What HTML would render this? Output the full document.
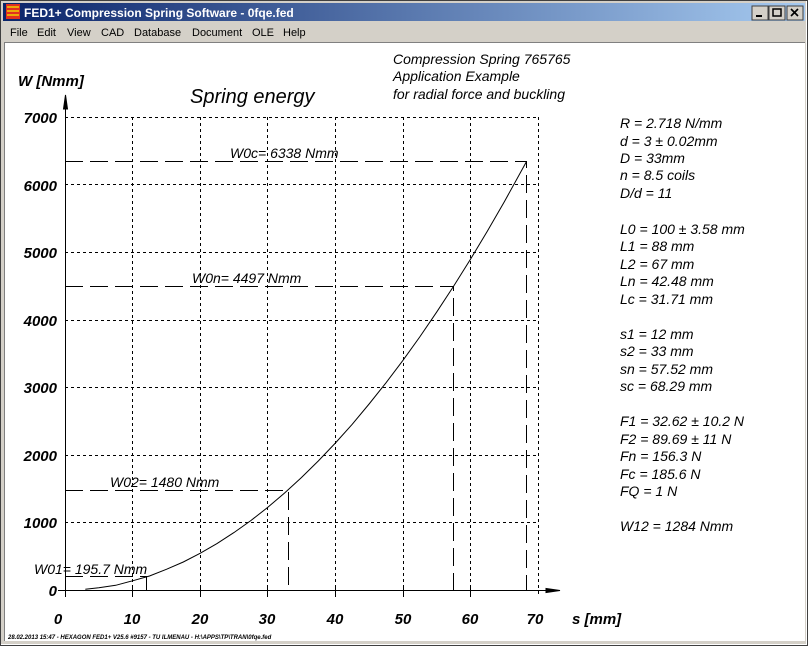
<!DOCTYPE html>
<html><head><style>
body{margin:0;width:808px;height:646px;overflow:hidden;background:#d4d0c8;font-family:"Liberation Sans",sans-serif}
</style></head><body>
<svg width="808" height="646" xmlns="http://www.w3.org/2000/svg" style="position:absolute;left:0;top:0">
<defs><linearGradient id="tb" x1="0" x2="1"><stop offset="0" stop-color="#0a246a"/><stop offset="1" stop-color="#a6caf0"/></linearGradient></defs>
<rect x="0" y="0" width="808" height="646" fill="#d4d0c8"/>
<rect x="0.5" y="0.5" width="806" height="644" fill="none" stroke="#fff"/>
<rect x="0.5" y="0.5" width="807" height="645" fill="none" stroke="#404040" stroke-dasharray="0" style="clip-path:none"/>
<rect x="3" y="3" width="802" height="18" fill="url(#tb)"/>
<rect x="6" y="4" width="14" height="15" fill="#e03020"/>
<path d="M7 7h12M7 11h12M7 15h12" stroke="#f0d000" stroke-width="1.5"/>
<text x="24" y="17" fill="#fff" font-weight="bold" font-size="12">FED1+  Compression Spring Software  -  0fqe.fed</text>
<g fill="#d4d0c8" stroke="#404040"><rect x="752" y="6" width="16" height="14"/><rect x="769" y="6" width="16" height="14"/><rect x="787" y="6" width="16" height="14"/></g>
<path d="M756 16h6" stroke="#000" stroke-width="2"/><rect x="773" y="9" width="8" height="7" fill="none" stroke="#000" stroke-width="1.5"/>
<path d="M791 9l7 7M798 9l-7 7" stroke="#000" stroke-width="1.6"/>
<text y="36" font-size="11" fill="#000"><tspan x="10">File</tspan><tspan x="37">Edit</tspan><tspan x="67">View</tspan><tspan x="101">CAD</tspan><tspan x="134">Database</tspan><tspan x="192">Document</tspan><tspan x="252">OLE</tspan><tspan x="283">Help</tspan></text>
<rect x="4" y="42" width="801" height="599" fill="#fff"/>
<path d="M4 42.5h801M4.5 42v599" stroke="#808080"/>
<g font-style="italic" fill="#000">
<text x="18" y="86" font-size="15" font-weight="bold">W [Nmm]</text>
<text x="190" y="103" font-size="20">Spring energy</text>
<g font-size="14"><text x="393" y="64">Compression Spring  765765</text><text x="393" y="81">Application Example</text><text x="393" y="99">for radial force and buckling</text></g>
<g font-size="14">
<text x="620" y="128">R  = 2.718 N/mm</text><text x="620" y="146">d  = 3 ± 0.02mm</text><text x="620" y="163">D = 33mm</text><text x="620" y="180">n  = 8.5 coils</text><text x="620" y="198">D/d = 11</text>
<text x="620" y="234">L0 = 100 ± 3.58 mm</text><text x="620" y="251">L1 = 88 mm</text><text x="620" y="269">L2 = 67 mm</text><text x="620" y="286">Ln = 42.48 mm</text><text x="620" y="304">Lc = 31.71 mm</text>
<text x="620" y="339">s1 = 12 mm</text><text x="620" y="356">s2 = 33 mm</text><text x="620" y="374">sn = 57.52 mm</text><text x="620" y="391">sc = 68.29 mm</text>
<text x="620" y="426">F1 = 32.62 ± 10.2 N</text><text x="620" y="444">F2 = 89.69 ± 11 N</text><text x="620" y="461">Fn = 156.3 N</text><text x="620" y="479">Fc = 185.6 N</text><text x="620" y="496">FQ = 1 N</text>
<text x="620" y="531">W12 = 1284 Nmm</text>
</g>
<g font-size="15" font-weight="bold" text-anchor="end">
<text x="57" y="123">7000</text><text x="57" y="191">6000</text><text x="57" y="258">5000</text><text x="57" y="326">4000</text><text x="57" y="393">3000</text><text x="57" y="461">2000</text><text x="57" y="528">1000</text><text x="57" y="596">0</text>
</g>
<g font-size="15" font-weight="bold" text-anchor="middle">
<text x="58" y="624">0</text><text x="132" y="624">10</text><text x="200" y="624">20</text><text x="267" y="624">30</text><text x="335" y="624">40</text><text x="403" y="624">50</text><text x="470" y="624">60</text><text x="535" y="624">70</text>
</g>
<text x="572" y="624" font-size="15" font-weight="bold">s [mm]</text>
<g font-size="14"><text x="230" y="158">W0c= 6338 Nmm</text><text x="192" y="283">W0n= 4497 Nmm</text><text x="110" y="487">W02= 1480 Nmm</text><text x="34" y="574">W01= 195.7 Nmm</text></g>
</g>
<text x="8" y="639" font-size="6" font-style="italic" font-weight="bold" fill="#000">28.02.2013 15:47 - HEXAGON FED1+ V25.6 #9157 - TU ILMENAU - H:\APPS\TP\TRAN\0fqe.fed</text>
<g stroke="#000" stroke-width="1" stroke-dasharray="3,3" fill="none">
<path d="M132.5 117v473M200.5 117v473M267.5 117v473M335.5 117v473M403.5 117v473M470.5 117v473M538.5 117v480"/>
<path d="M65 117.5h473M65 184.5h473M65 252.5h473M65 320.5h473M65 387.5h473M65 455.5h473M65 522.5h473"/>
</g>
<g stroke="#000" stroke-width="1" stroke-dasharray="18,7" fill="none">
<path d="M65 161.5h461.5v428.5"/><path d="M65 286.5h388.5v303.5"/><path d="M65 490.5h223.5v99.5"/><path d="M65 576.5h81"/>
</g>
<path d="M146.5 576v14" stroke="#000"/>
<g stroke="#000" fill="none">
<path d="M65.5 597V95M58 590.5h500"/>
<path d="M65.5 95l-2 14h4z" fill="#000"/><path d="M560 590.5l-14-2v4z" fill="#000"/>
<path d="M132.5 585v12M200.5 585v12M267.5 585v12M335.5 585v12M403.5 585v12M470.5 585v12"/>
<path d="M85.3 589.2 L98.8 587.7 L115.7 585.3 L132.6 580.8 L149.5 576 L166.4 569.3 L183.3 562 L200.1 553.3 L217 543.6 L233.9 532.6 L250.8 520.6 L267.7 507.4 L284.6 493 L301.5 477.5 L318.4 460.9 L335.3 443.1 L352.2 424.3 L369.1 404 L386 382.8 L402.9 360.4 L419.8 336.9 L436.6 312.2 L453.5 286.4 L470.4 259.4 L487.3 231.3 L504.2 202 L526.4 161.7"/>
</g>
</svg>
</body></html>
